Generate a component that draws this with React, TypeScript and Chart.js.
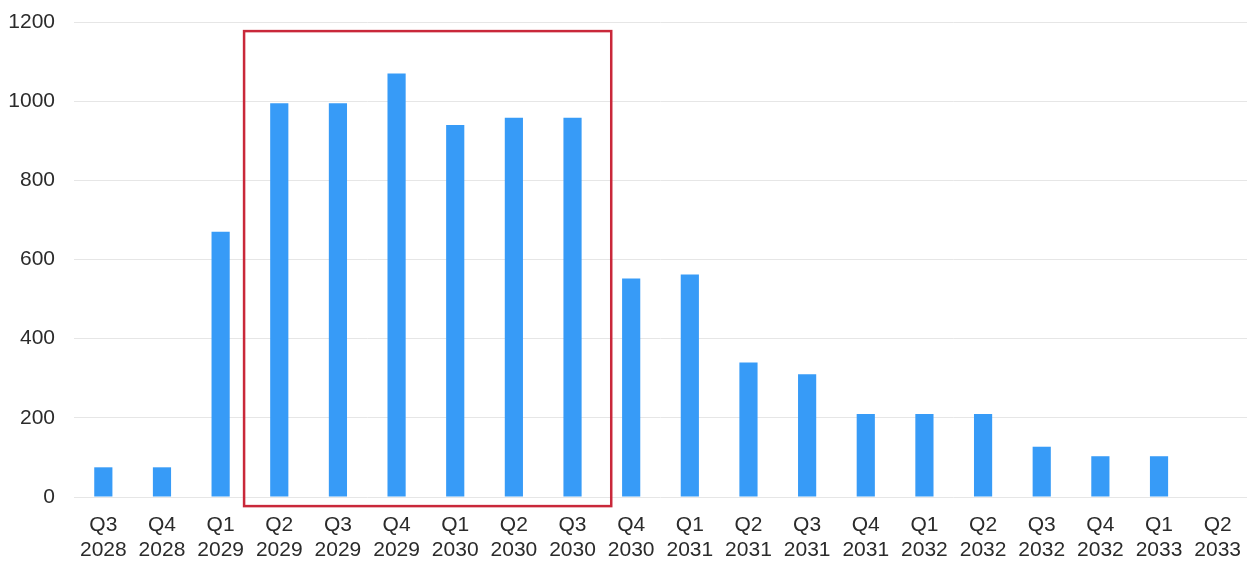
import React, { useEffect, useRef } from "react";
import { Chart, registerables } from "chart.js";

Chart.register(...registerables);

const quarters = ["Q3", "Q4", "Q1", "Q2", "Q3", "Q4", "Q1", "Q2", "Q3", "Q4", "Q1", "Q2", "Q3", "Q4", "Q1", "Q2", "Q3", "Q4", "Q1", "Q2"];
const years = ["2028", "2028", "2029", "2029", "2029", "2029", "2030", "2030", "2030", "2030", "2031", "2031", "2031", "2031", "2032", "2032", "2032", "2032", "2033", "2033"];
const values = [75, 75, 670, 995, 995, 1070, 940, 958, 958, 552, 562, 340, 310, 210, 210, 210, 127, 103, 103, 0];

const yTicksMin = 0;
const yTicksMax = 1200;
const yTicksStep = 200;

// highlighted range (category indices) and its value extent
const highlightStart = 3;
const highlightEnd = 8;
const highlightTop = 1177;
const highlightBottom = -23;

const highlightPlugin = {
  id: "highlightBox",
  afterDatasetsDraw(chart: any) {
    const x = chart.scales.x;
    const y = chart.scales.y;
    const step = x.getPixelForValue(1) - x.getPixelForValue(0);
    const left = x.getPixelForValue(highlightStart) - step * 0.6;
    const right = x.getPixelForValue(highlightEnd) + step * 0.66;
    const top = y.getPixelForValue(highlightTop);
    const bottom = y.getPixelForValue(highlightBottom);
    const ctx = chart.ctx;
    ctx.save();
    ctx.strokeStyle = "#c9283a";
    ctx.lineWidth = 2.5;
    ctx.strokeRect(left, top, right - left, bottom - top);
    ctx.restore();
  },
};

export default function App() {
  const ref = useRef<HTMLCanvasElement | null>(null);

  useEffect(() => {
    document.body.style.margin = "0";
    if (!ref.current) return;
    const labels = quarters.map((q, i) => [q, years[i]]);
    const chart = new Chart(ref.current, {
      type: "bar",
      data: {
        labels,
        datasets: [
          {
            data: values,
            backgroundColor: "#379bf7",
            borderWidth: 0,
            barPercentage: 0.31,
            categoryPercentage: 1,
          },
        ],
      },
      options: {
        animation: false,
        responsive: false,
        maintainAspectRatio: false,
        layout: { padding: { top: 22, right: 1, left: 0, bottom: 0 } },
        plugins: {
          legend: { display: false },
          tooltip: { enabled: false },
        },
        scales: {
          x: {
            grid: { display: false, drawTicks: false },
            border: { display: false },
            ticks: {
              color: "#2b2b2b",
              font: { family: "'Liberation Sans', Arial, sans-serif", size: 21, lineHeight: 1.19 },
              padding: 16,
              maxRotation: 0,
              autoSkip: false,
            },
            afterFit: (scale: any) => {
              scale.height = 64;
              scale.paddingLeft = 0;
              scale.paddingRight = 0;
            },
          },
          y: {
            min: yTicksMin,
            max: yTicksMax,
            grid: { color: "#e6e6e6", lineWidth: 1, drawTicks: false },
            border: { display: false },
            ticks: {
              stepSize: yTicksStep,
              color: "#2b2b2b",
              font: { family: "'Liberation Sans', Arial, sans-serif", size: 21 },
              padding: 19,
              callback: (v: any) => String(v),
            },
            afterFit: (scale: any) => {
              scale.width = 74;
              scale.paddingTop = 0;
              scale.paddingBottom = 0;
            },
          },
        },
      },
      plugins: [highlightPlugin],
    });
    return () => chart.destroy();
  }, []);

  return (
    <div style={{ position: "absolute", left: 0, top: 0, width: 1248, height: 561 }}>
      <canvas ref={ref} width={1248} height={561} style={{ width: 1248, height: 561 }} />
    </div>
  );
}
